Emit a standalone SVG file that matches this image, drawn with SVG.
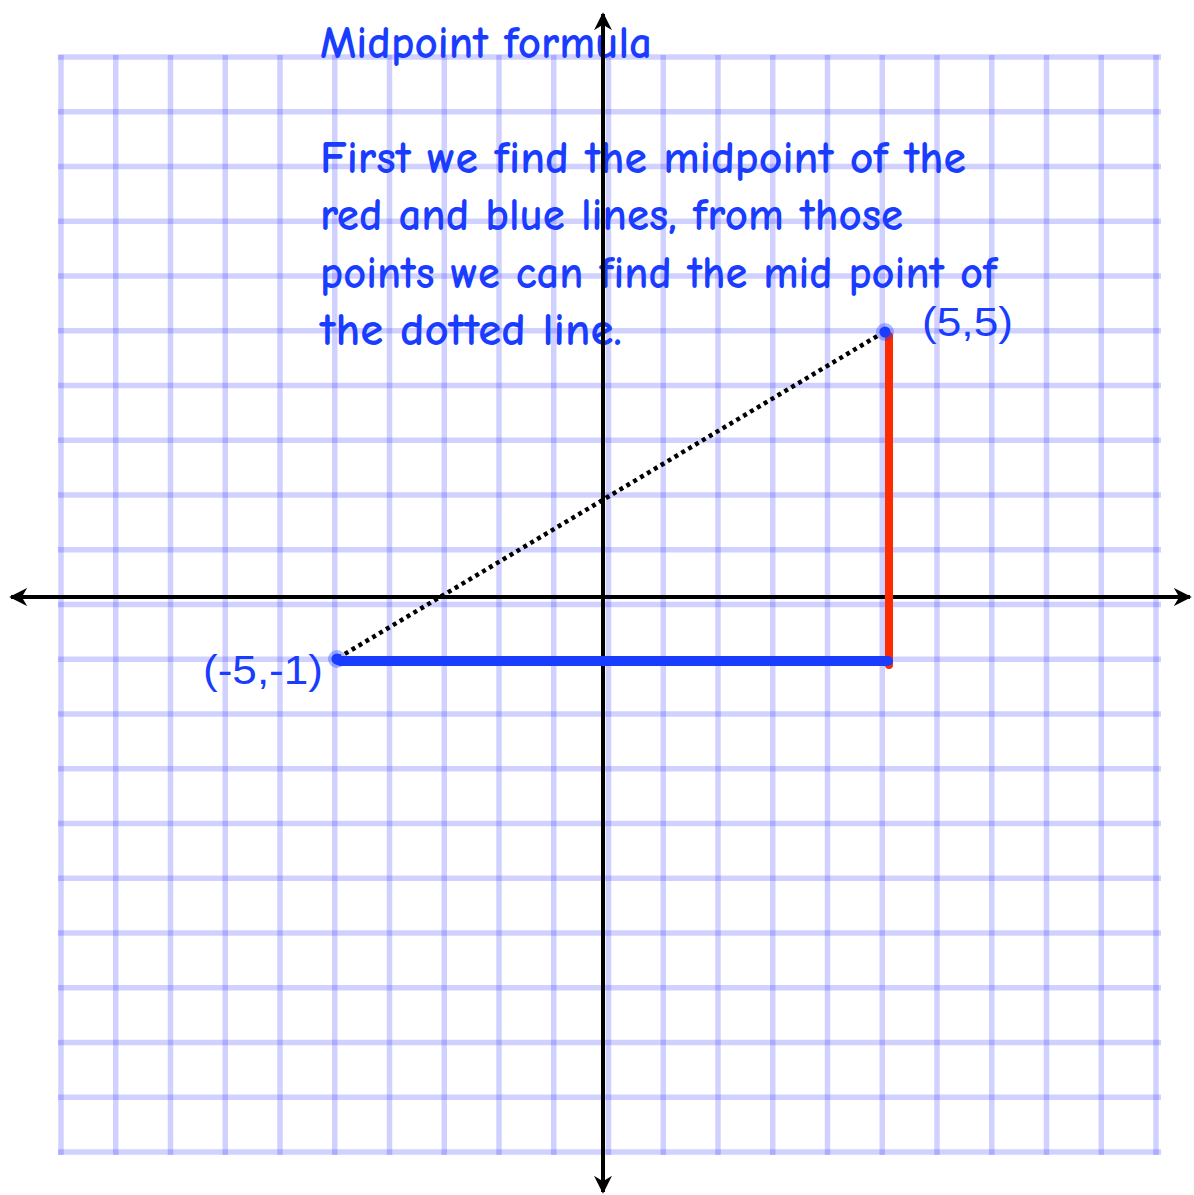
<svg xmlns="http://www.w3.org/2000/svg" width="1194" height="1195" viewBox="0 0 1194 1195">
<style>
.grid{stroke:#0000ff;stroke-opacity:0.18;stroke-width:5.5;fill:none}
.axis{stroke:#000;stroke-width:4;fill:none}
.txt{font-family:"Comic Sans MS","Comic Neue","DejaVu Sans","Liberation Sans",sans-serif;font-size:46px;font-weight:bold;fill:#1a3cff}
.lbl{font-family:"Liberation Sans",Arial,sans-serif;font-size:41px;fill:#1a3cff}
</style>
<defs>
<marker id="arr" viewBox="0 0 10 10" refX="9" refY="5" markerWidth="4.5" markerHeight="4.5" markerUnits="strokeWidth" orient="auto">
<path d="M0,0 L10,5 L0,10 L3,5 Z" fill="#000"/>
</marker>
</defs>
<rect width="1194" height="1195" fill="#fff"/>
<g id="grid">
<path class="grid" d="M61,55V1155 M115.75,55V1155 M170.5,55V1155 M225.25,55V1155 M280,55V1155 M334.75,55V1155 M389.5,55V1155 M444.25,55V1155 M499,55V1155 M553.75,55V1155 M608.5,55V1155 M663.25,55V1155 M718,55V1155 M772.75,55V1155 M827.5,55V1155 M882.25,55V1155 M937,55V1155 M991.75,55V1155 M1046.5,55V1155 M1101.25,55V1155 M1156,55V1155"/>
<path class="grid" d="M58,57H1161 M58,111.75H1161 M58,166.5H1161 M58,221.25H1161 M58,276H1161 M58,330.75H1161 M58,385.5H1161 M58,440.25H1161 M58,495H1161 M58,549.75H1161 M58,604.5H1161 M58,659.25H1161 M58,714H1161 M58,768.75H1161 M58,823.5H1161 M58,878.25H1161 M58,933H1161 M58,987.75H1161 M58,1042.5H1161 M58,1097.25H1161 M58,1152H1161"/>
</g>
<g id="text">
<text class="txt" x="320" y="58" textLength="332" lengthAdjust="spacingAndGlyphs">Midpoint formula</text>
<text class="txt" x="320" y="173" textLength="646" lengthAdjust="spacingAndGlyphs">First we find the midpoint of the</text>
<text class="txt" x="320" y="230" textLength="583" lengthAdjust="spacingAndGlyphs">red and blue lines, from those</text>
<text class="txt" x="320" y="288" textLength="677" lengthAdjust="spacingAndGlyphs">points we can find the mid point of</text>
<text class="txt" x="320" y="345" textLength="302" lengthAdjust="spacingAndGlyphs">the dotted line.</text>
</g>
<g id="connectors">
<line class="axis" x1="603" y1="1192" x2="603" y2="14" marker-end="url(#arr)"/>
<line class="axis" x1="603" y1="20" x2="603" y2="1192" marker-end="url(#arr)"/>
<line class="axis" x1="1190" y1="597" x2="11" y2="597" marker-end="url(#arr)"/>
<line class="axis" x1="20" y1="597" x2="1190" y2="597" marker-end="url(#arr)"/>
<line id="red-line" x1="889" y1="336" x2="889" y2="665" stroke="#ff2a00" stroke-width="8" stroke-linecap="round"/>
<line id="blue-line" x1="340" y1="661" x2="888" y2="661" stroke="#1a3cff" stroke-width="10" stroke-linecap="round"/>
<line id="dotted-line" x1="338" y1="658" x2="884" y2="332" stroke="#000" stroke-width="4.5" stroke-dasharray="4 4"/>
</g>
<g id="point-a">
<circle cx="337" cy="659" r="9" fill="#1a3cff" fill-opacity="0.35"/>
<circle cx="337" cy="659" r="5.5" fill="#1a3cff"/>
<text class="lbl" x="203" y="684" textLength="120" lengthAdjust="spacingAndGlyphs">(-5,-1)</text>
</g>
<g id="point-b">
<circle cx="885" cy="332" r="9" fill="#1a3cff" fill-opacity="0.35"/>
<circle cx="885" cy="332" r="5.5" fill="#1a3cff"/>
<text class="lbl" x="922" y="336" textLength="91" lengthAdjust="spacingAndGlyphs">(5,5)</text>
</g>
</svg>
